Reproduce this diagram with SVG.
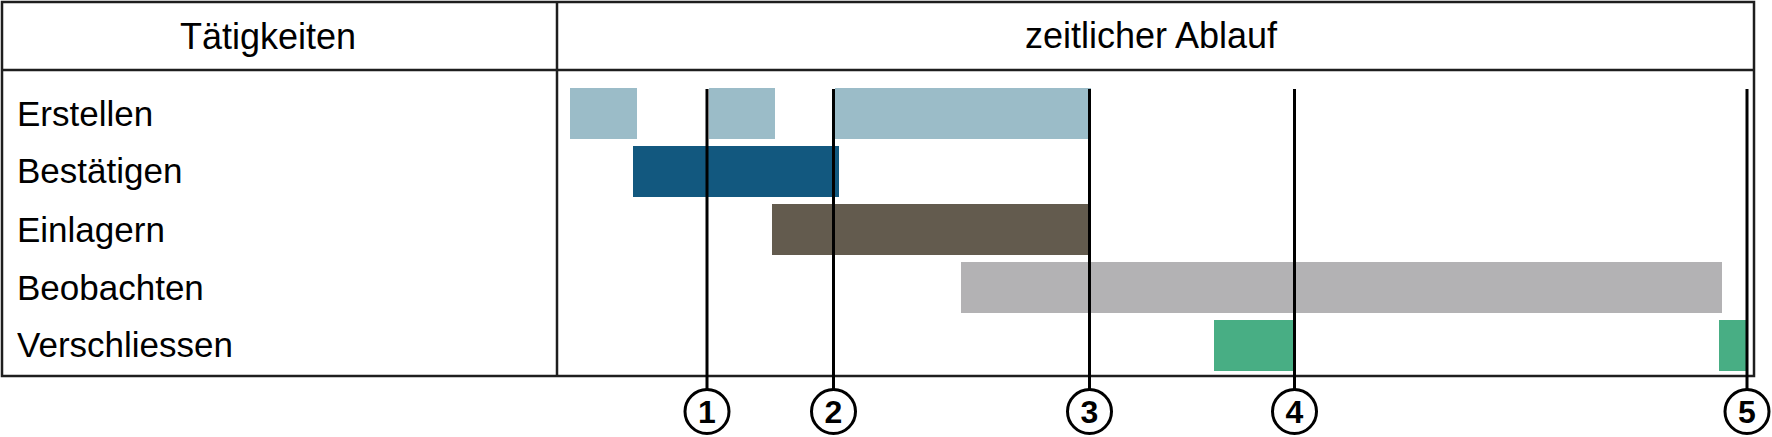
<svg xmlns="http://www.w3.org/2000/svg" width="1772" height="437" viewBox="0 0 1772 437">
<style>
.t{font-family:"Liberation Sans",Arial,sans-serif;fill:#000}
.h{font-size:36px}
.l{font-size:35px}
.n{font-size:32px;font-weight:bold;text-anchor:middle}
.grid{stroke:#1e1e1e;stroke-width:2.5;fill:none}
.ms{stroke:#000;stroke-width:3;fill:none}
.c{stroke:#000;stroke-width:3;fill:#fff}
.er{fill:#9bbcc8}.be{fill:#12587f}.ei{fill:#635b4e}.bo{fill:#b3b2b4}.ve{fill:#48ae84}
</style>
<rect width="1772" height="437" fill="#fff"/>
<g id="table">
<rect class="grid" x="2" y="2" width="1752" height="374"/>
<line class="grid" x1="2" y1="70" x2="1754" y2="70"/>
<line class="grid" x1="557" y1="2" x2="557" y2="376"/>
<text class="t h" x="268" y="49" text-anchor="middle">Tätigkeiten</text>
<text class="t h" x="1151" y="48" text-anchor="middle">zeitlicher Ablauf</text>
</g>
<g id="labels">
<text class="t l" x="17" y="126">Erstellen</text>
<text class="t l" x="17" y="183">Bestätigen</text>
<text class="t l" x="17" y="242">Einlagern</text>
<text class="t l" x="17" y="300">Beobachten</text>
<text class="t l" x="17" y="357">Verschliessen</text>
</g>
<g id="bars">
<rect class="er" x="570" y="88" width="67" height="51"/>
<rect class="er" x="709" y="88" width="66" height="51"/>
<rect class="er" x="835" y="88" width="256" height="51"/>
<rect class="be" x="633" y="146" width="206" height="51"/>
<rect class="ei" x="772" y="204" width="316" height="51"/>
<rect class="bo" x="961" y="262" width="761" height="51"/>
<rect class="ve" x="1214" y="320" width="80" height="51"/>
<rect class="ve" x="1719" y="320" width="28" height="51"/>
</g>
<g id="connectors">
<line class="ms" x1="707" y1="89" x2="707" y2="389"/>
<line class="ms" x1="833.5" y1="89" x2="833.5" y2="389"/>
<line class="ms" x1="1089.5" y1="89" x2="1089.5" y2="389"/>
<line class="ms" x1="1294.5" y1="89" x2="1294.5" y2="389"/>
<line class="ms" x1="1747" y1="89" x2="1747" y2="389"/>
</g>
<g id="m1"><circle class="c" cx="707" cy="411.5" r="22"/><text class="t n" x="707" y="423">1</text></g>
<g id="m2"><circle class="c" cx="833.5" cy="411.5" r="22"/><text class="t n" x="833.5" y="423">2</text></g>
<g id="m3"><circle class="c" cx="1089.5" cy="411.5" r="22"/><text class="t n" x="1089.5" y="423">3</text></g>
<g id="m4"><circle class="c" cx="1294.5" cy="411.5" r="22"/><text class="t n" x="1294.5" y="423">4</text></g>
<g id="m5"><circle class="c" cx="1747" cy="411.5" r="22"/><text class="t n" x="1747" y="423">5</text></g>
</svg>
